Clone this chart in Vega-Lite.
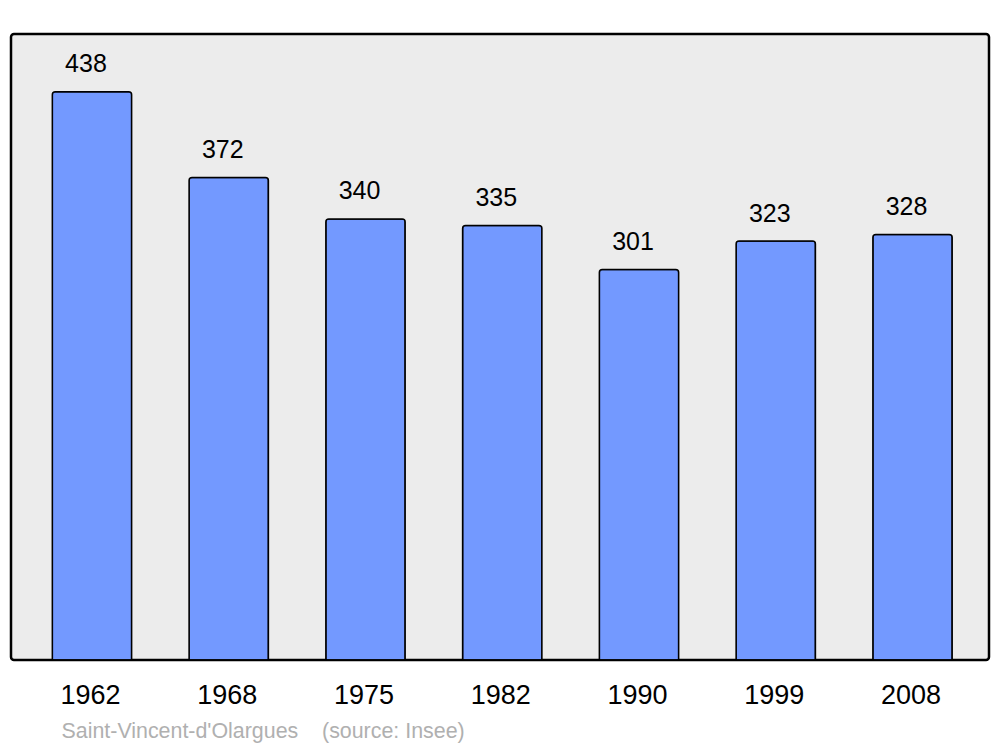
{
  "$schema": "https://vega.github.io/schema/vega-lite/v6.json",
  "width": 978,
  "height": 626,
  "autosize": "none",
  "padding": {"left": 11, "top": 34, "right": 11, "bottom": 87},
  "background": "#ffffff",
  "config": {
    "view": {"fill": "#ececec", "stroke": "#000000", "strokeWidth": 2.5, "cornerRadius": 3},
    "font": "Liberation Sans"
  },
  "data": {
    "values": [
      {"year": "1962", "pop": 438},
      {"year": "1968", "pop": 372},
      {"year": "1975", "pop": 340},
      {"year": "1982", "pop": 335},
      {"year": "1990", "pop": 301},
      {"year": "1999", "pop": 323},
      {"year": "2008", "pop": 328}
    ]
  },
  "encoding": {
    "x": {
      "field": "year",
      "type": "nominal",
      "sort": null,
      "scale": {"range": [12.6, 969.9], "paddingInner": 0.42, "paddingOuter": 0.21},
      "axis": {
        "title": "Saint-Vincent-d'Olargues\u00a0\u00a0\u00a0\u00a0(source: Insee)",
        "titleFont": "Liberation Sans",
        "titleFontSize": 21.4,
        "titleFontWeight": "normal",
        "titleColor": "#b0b0b0",
        "titleAnchor": "start",
        "titleAlign": "left",
        "titleBaseline": "alphabetic",
        "titleX": 50,
        "titleY": 77,
        "domain": false,
        "ticks": false,
        "tickSize": 0,
        "grid": false,
        "labelAngle": 0,
        "labelOffset": -1.5,
        "labelFont": "Liberation Sans",
        "labelFontSize": 27,
        "labelColor": "#000000",
        "labelBaseline": "alphabetic",
        "labelPadding": 43.5
      }
    },
    "y": {
      "field": "pop",
      "type": "quantitative",
      "scale": {"domain": [0, 482.6], "nice": false, "zero": true},
      "axis": null
    }
  },
  "layer": [
    {
      "mark": {
        "type": "bar",
        "fill": "#7399ff",
        "stroke": "#000000",
        "strokeWidth": 1.5,
        "cornerRadiusTopLeft": 3,
        "cornerRadiusTopRight": 3
      }
    },
    {
      "mark": {
        "type": "text",
        "baseline": "alphabetic",
        "align": "center",
        "dx": -6,
        "dy": -19.5,
        "fontSize": 25,
        "font": "Liberation Sans",
        "color": "#000000"
      },
      "encoding": {"text": {"field": "pop", "type": "quantitative"}}
    }
  ]
}
